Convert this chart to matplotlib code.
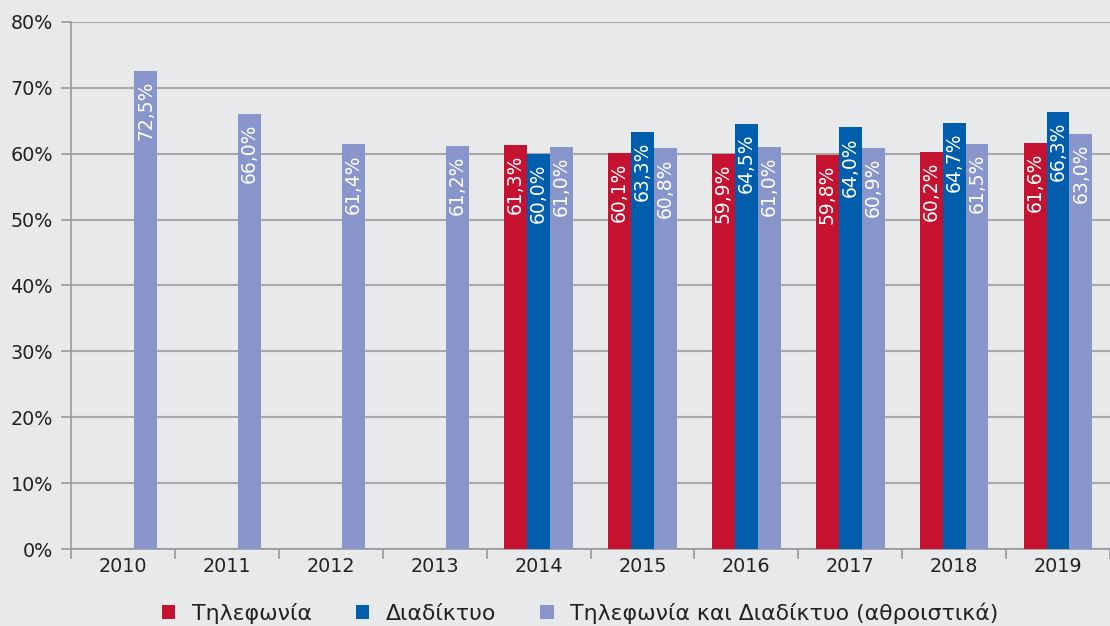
import numpy as np
import matplotlib.pyplot as plt
from matplotlib.ticker import FixedLocator

plt.rcParams['font.family'] = ['DejaVu Sans']

years = ['2010', '2011', '2012', '2013', '2014', '2015', '2016', '2017', '2018', '2019']
telephony = [np.nan, np.nan, np.nan, np.nan, 61.3, 60.1, 59.9, 59.8, 60.2, 61.6]
internet = [np.nan, np.nan, np.nan, np.nan, 60.0, 63.3, 64.5, 64.0, 64.7, 66.3]
combined = [72.5, 66.0, 61.4, 61.2, 61.0, 60.8, 61.0, 60.9, 61.5, 63.0]

labels = ['Τηλεφωνία', 'Διαδίκτυο', 'Τηλεφωνία και Διαδίκτυο (αθροιστικά)']
colors = ['#c41230', '#005ead', '#8896cb']
bg = '#e8e9eb'

fig = plt.figure(figsize=(11.1, 6.26), dpi=100, facecolor=bg)
ax = fig.add_axes([0.064, 0.123, 0.936, 0.842], facecolor=bg)

x = np.arange(len(years))
w = 0.22
for i, (vals, col, lab) in enumerate(zip([telephony, internet, combined], colors, labels)):
    pos = x + (i - 1) * w
    ax.bar(pos, vals, width=w, color=col, label=lab, zorder=3, linewidth=0)
    for p, v in zip(pos, vals):
        if np.isnan(v):
            continue
        ax.annotate(f'{v:.1f}%'.replace('.', ','), (p, v), xytext=(0, -7),
                    textcoords='offset points', rotation=90, ha='center', va='top',
                    color='white', fontsize=13.5, zorder=4)

ax.set_xlim(-0.5, len(years) - 0.5)
ax.set_ylim(0, 80)
ax.set_yticks(range(0, 81, 10))
ax.set_yticklabels([f'{t}%' for t in range(0, 81, 10)], fontsize=13.8, color='#222222')
ax.set_xticks(x)
ax.set_xticklabels(years, fontsize=13.8, color='#222222')
ax.xaxis.set_minor_locator(FixedLocator(np.arange(-0.5, len(years), 1.0)))
ax.tick_params(axis='x', which='major', length=0, pad=6)
ax.tick_params(axis='x', which='minor', length=7, color='#999999', width=1.2)
ax.tick_params(axis='y', length=7, color='#999999', width=1.2, pad=6)

ax.grid(axis='y', color='#a8a8a8', linewidth=1.5, zorder=0)
for s in ['top', 'right']:
    ax.spines[s].set_visible(False)
for s in ['left', 'bottom']:
    ax.spines[s].set_color('#999999')
    ax.spines[s].set_linewidth(1.2)

ax.legend(loc='center', bbox_to_anchor=(0.49, -0.122), ncol=3, frameon=False,
          fontsize=15.8, handlelength=0.62, handleheight=0.62, columnspacing=2.0,
          handletextpad=0.75, labelcolor='#222222')

fig.savefig('out.png', dpi=100, facecolor=bg)
